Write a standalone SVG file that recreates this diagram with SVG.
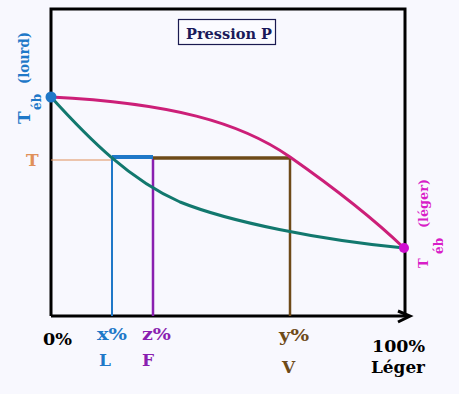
<svg xmlns="http://www.w3.org/2000/svg" width="459" height="394" viewBox="0 0 459 394">
<style>
text{font-family:"DejaVu Serif","Liberation Serif",serif;font-weight:bold}
.lbl{font-size:17px}
.blue{fill:#1f78c8}
.pur{fill:#8a1fb0}
.brn{fill:#6e4a18}
.mag{fill:#d81ec8}
</style>
<rect width="459" height="394" fill="#f8f8fe"/>
<g id="frame" fill="none" stroke="#000" stroke-width="3">
<polyline points="51,316 51,9 405,9 405,316"/>
<line x1="51" y1="316" x2="409" y2="316"/>
<polyline points="398,311 410,316 398,322" stroke-width="3"/>
</g>
<g id="title">
<rect x="178.5" y="19.5" width="97" height="25" fill="#fbfbff" stroke="#1a1a50" stroke-width="1.2"/>
<text x="186" y="39" font-size="15" fill="#1a1a5a" textLength="86" lengthAdjust="spacingAndGlyphs">Pression P</text>
</g>
<g id="connectors" fill="none">
<line x1="51" y1="160" x2="112" y2="160" stroke="#e0905a" stroke-width="1"/>
<line x1="112" y1="157" x2="112" y2="316" stroke="#1f78c8" stroke-width="2"/>
<line x1="153" y1="157" x2="153" y2="316" stroke="#8a1fb0" stroke-width="2.5"/>
<line x1="290" y1="158" x2="290" y2="316" stroke="#6e4a18" stroke-width="2.5"/>
<line x1="153" y1="158" x2="290" y2="158" stroke="#6e4a18" stroke-width="3.5"/>
<line x1="112" y1="157" x2="153" y2="157" stroke="#1f78c8" stroke-width="4"/>
<path d="M51,97 C170,103 240,122 290,157 S380,225 404,248" stroke="#cc1f78" stroke-width="3"/>
<path d="M51,97 C90,140 130,180 180,202 C230,222 320,240 404,248" stroke="#12786e" stroke-width="3"/>
</g>
<g id="dot-lourd"><circle cx="51" cy="97" r="5.5" fill="#1f78c8"/></g>
<g id="dot-leger"><circle cx="404" cy="248" r="5" fill="#d010d0"/></g>
<g id="label-lourd" class="blue">
<text transform="translate(30,124) rotate(-90)" font-size="17">T</text>
<text transform="translate(40.5,110) rotate(-90)" font-size="12">éb</text>
<text transform="translate(29,84) rotate(-90)" font-size="14" textLength="52" lengthAdjust="spacingAndGlyphs">(lourd)</text>
</g>
<g id="label-leger" class="mag">
<text transform="translate(428,268) rotate(-90)" font-size="13">T</text>
<text transform="translate(443,254) rotate(-90)" font-size="12">éb</text>
<text transform="translate(428,228) rotate(-90)" font-size="13" textLength="49" lengthAdjust="spacingAndGlyphs">(léger)</text>
</g>
<g id="label-T"><text x="26" y="166" font-size="17" fill="#e0905a">T</text></g>
<g id="label-0"><text x="43" y="345" class="lbl" fill="#000" textLength="29" lengthAdjust="spacingAndGlyphs">0%</text></g>
<g id="label-x" class="blue"><text x="97" y="340" class="lbl" textLength="30" lengthAdjust="spacingAndGlyphs">x%</text><text x="99" y="366" class="lbl">L</text></g>
<g id="label-z" class="pur"><text x="142" y="340" class="lbl" textLength="29" lengthAdjust="spacingAndGlyphs">z%</text><text x="142" y="366" class="lbl">F</text></g>
<g id="label-y" class="brn"><text x="279" y="341" class="lbl" textLength="30" lengthAdjust="spacingAndGlyphs">y%</text><text x="282" y="373" class="lbl">V</text></g>
<g id="label-100"><text x="372" y="352" class="lbl" fill="#000" textLength="53" lengthAdjust="spacingAndGlyphs">100%</text><text x="371" y="373" class="lbl" fill="#000" textLength="54" lengthAdjust="spacingAndGlyphs">Léger</text></g>
</svg>
